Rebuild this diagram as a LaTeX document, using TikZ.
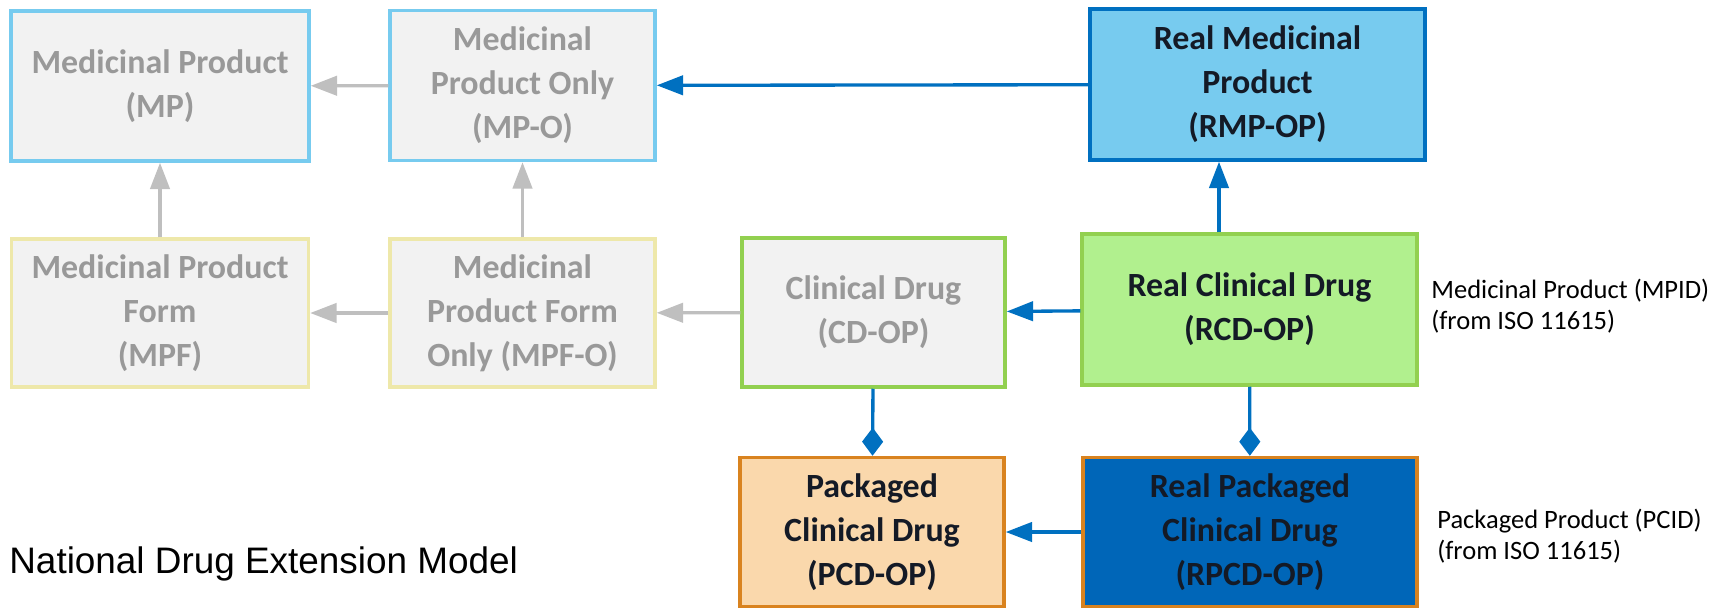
\documentclass[tikz,border=0pt]{standalone}
\usepackage{fontspec}
\setmainfont{Carlito}
\newfontfamily\arialfont{Liberation Sans}
\usetikzlibrary{arrows.meta, positioning}

\definecolor{boxgray}{HTML}{F2F2F2}
\definecolor{txtgray}{HTML}{999999}
\definecolor{txtdark}{HTML}{141A26}
\definecolor{skyblue}{HTML}{77CBEF}
\definecolor{paleyellow}{HTML}{EEE8AA}
\definecolor{leafgreen}{HTML}{92D050}
\definecolor{lightgreen}{HTML}{B1F08E}
\definecolor{deepblue}{HTML}{0070C0}
\definecolor{packblue}{HTML}{0066B8}
\definecolor{orangeline}{HTML}{D9831F}
\definecolor{peach}{HTML}{FAD8AC}
\definecolor{arrowgray}{HTML}{BFBFBF}

\begin{document}
\begin{tikzpicture}[x=0.02cm, y=-0.02cm,
  box/.style={rectangle, draw, line width=2pt, inner sep=0pt, align=center,
    font=\fontsize{19.3}{25}\selectfont\bfseries},
  oldbox/.style={box, fill=boxgray, text=txtgray},
  realbox/.style={box, text=txtdark},
  note/.style={anchor=west, align=left, inner sep=0pt,
    font=\fontsize{15.1}{17.6}\selectfont},
  greyarrow/.style={-{Triangle[length=15pt, width=11pt]}, line width=1.9pt, color=arrowgray},
  bluearrow/.style={-{Triangle[length=15pt, width=11pt]}, line width=1.9pt, color=deepblue},
  bluediamond/.style={-{Diamond[length=16pt, width=12pt]}, line width=1.9pt, color=deepblue}]
  \useasboundingbox (0,0) rectangle (1714,609);

  % top row
  \node[oldbox, draw=skyblue, minimum width=5.96cm, minimum height=3cm] (mp) at (160,86) {Medicinal Product\\(MP)};
  \node[oldbox, draw=skyblue, minimum width=5.3cm, minimum height=3cm] (mpo) at (522.5,85.5) {Medicinal\\Product Only\\(MP-O)};
  \node[realbox, draw=deepblue, fill=skyblue, minimum width=6.7cm, minimum height=3.02cm] (rmp) at (1257.5,84.5) {Real Medicinal\\Product\\(RMP-OP)};

  % middle row
  \node[oldbox, draw=paleyellow, minimum width=5.94cm, minimum height=2.96cm] (mpf) at (160,313) {Medicinal Product\\Form\\(MPF)};
  \node[oldbox, draw=paleyellow, minimum width=5.3cm, minimum height=2.96cm] (mpfo) at (522.5,313) {Medicinal\\Product Form\\Only (MPF-O)};
  \node[oldbox, draw=leafgreen, minimum width=5.26cm, minimum height=2.98cm] (cd) at (873.5,312.5) {Clinical Drug\\(CD-OP)};
  \node[realbox, draw=leafgreen, fill=lightgreen, minimum width=6.7cm, minimum height=3.02cm] (rcd) at (1249.5,309.5) {Real Clinical Drug\\(RCD-OP)};

  % bottom row
  \node[realbox, draw=orangeline, fill=peach, minimum width=5.28cm, minimum height=2.98cm] (pcd) at (872,532) {Packaged\\Clinical Drug\\(PCD-OP)};
  \node[realbox, draw=orangeline, fill=packblue, minimum width=6.68cm, minimum height=2.98cm] (rpcd) at (1250,532) {Real Packaged\\Clinical Drug\\(RPCD-OP)};

  % notes
  \node[note] (mpid) at (1431,306) {Medicinal Product (MPID)\\(from ISO 11615)};
  \node[note] (pcid) at (1437,536) {Packaged Product (PCID)\\(from ISO 11615)};
  \node[anchor=base west, inner sep=0pt, font=\arialfont\fontsize{21}{25}\selectfont] (title) at (9,573) {National Drug Extension Model};

  \coordinate (up) at (1219,0);

  \path
  (mpo) edge[greyarrow] (mp)
  (mpf) edge[greyarrow] (mp)
  (mpfo) edge[greyarrow] (mpo)
  (mpfo) edge[greyarrow] (mpf)
  (cd) edge[greyarrow] (mpfo);

  \path
  (rmp) edge[bluearrow] (mpo)
  (rcd) edge[bluearrow] (cd)
  (rpcd) edge[bluearrow] (pcd)
  (rcd.north -| up) edge[bluearrow] (rmp.south -| up);

  \path
  (cd) edge[bluediamond] (pcd)
  (rcd) edge[bluediamond] (rpcd);
\end{tikzpicture}
\end{document}
